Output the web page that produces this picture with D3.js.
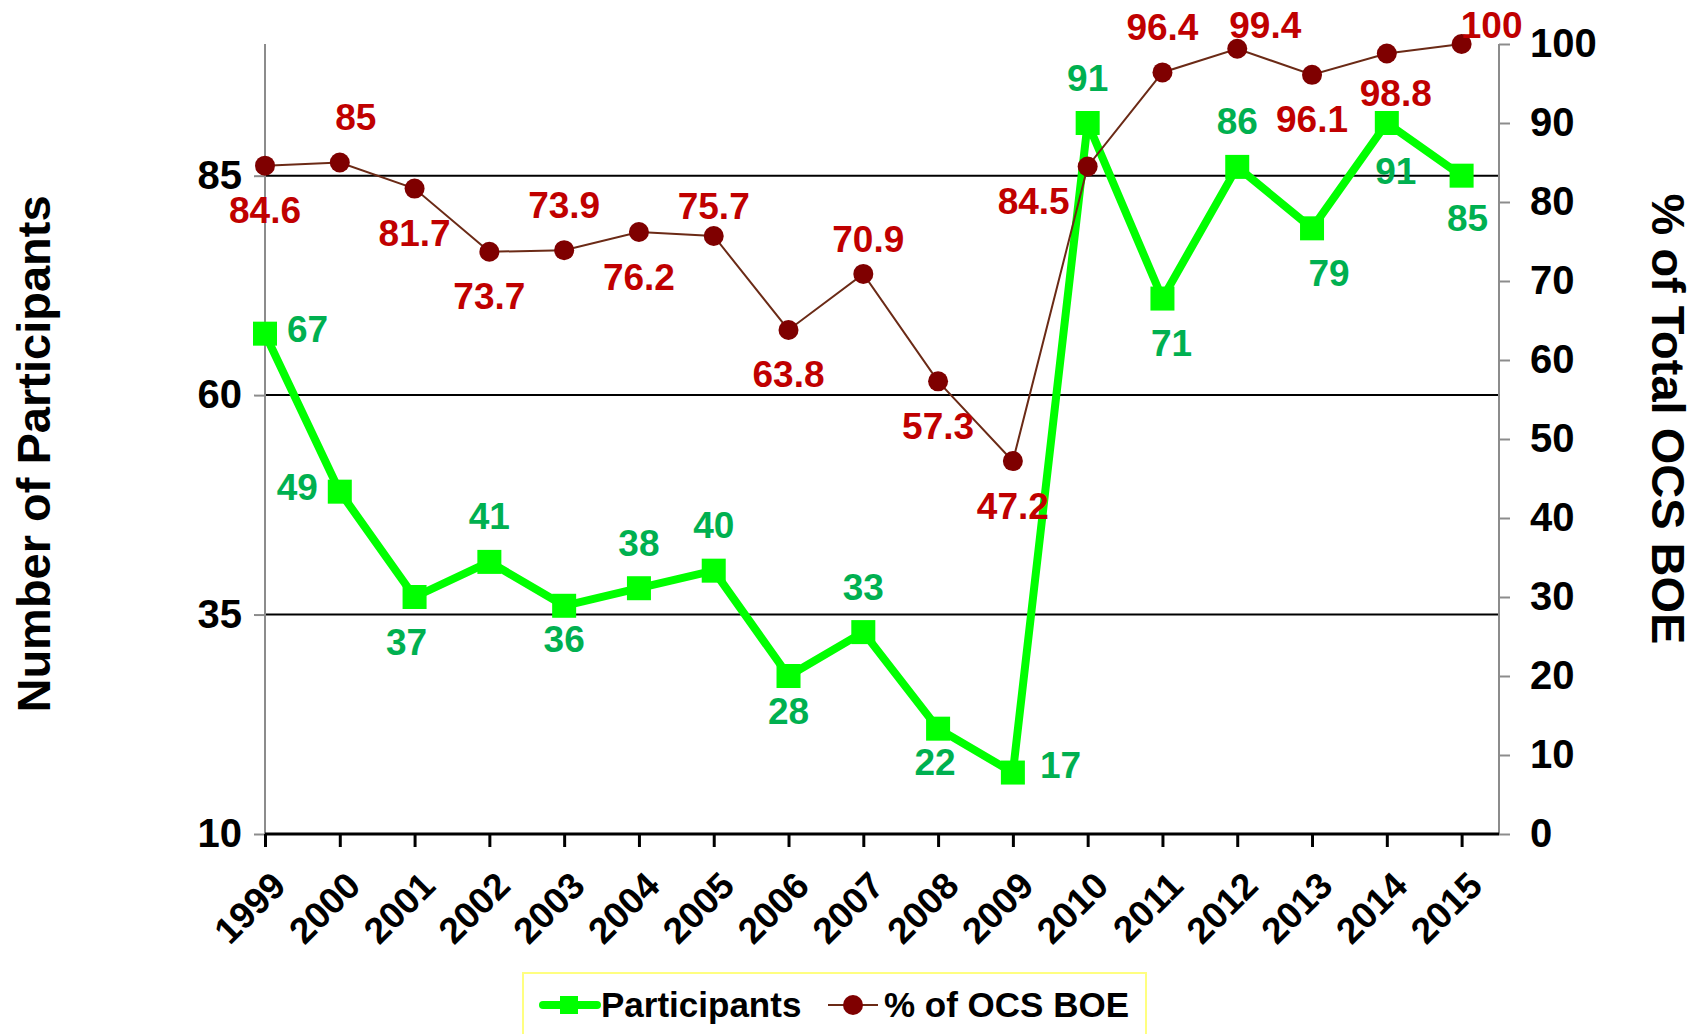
<!DOCTYPE html>
<html>
<head>
<meta charset="utf-8">
<script src="https://cdn.jsdelivr.net/npm/d3@7"></script>
<style>
  body { margin: 0; background: #fff; }
  text { font-family: "Liberation Sans", Arial, sans-serif; font-weight: bold; }
</style>
</head>
<body>
<svg width="1708" height="1034"></svg>
<script>
// data
const years = ['1999', '2000', '2001', '2002', '2003', '2004', '2005', '2006', '2007',
  '2008', '2009', '2010', '2011', '2012', '2013', '2014', '2015'];
const participants = [67, 49, 37, 41, 36, 38, 40, 28, 33, 22, 17, 91, 71, 86, 79, 91, 85];
const pctBoe = [84.6, 85, 81.7, 73.7, 73.9, 76.2, 75.7, 63.8, 70.9, 57.3, 47.2, 84.5, 96.4, 99.4, 96.1, 98.8, 100];
const leftTicks = [10, 35, 60, 85];
const rightTicks = [0, 10, 20, 30, 40, 50, 60, 70, 80, 90, 100];

// where each data label sits (t = above, b = below, l = left, r = right)
const partPos = ['r', 'l', 'b', 't', 'b', 't', 't', 'b', 't', 'b', 'r', 't', 'b', 't', 'b', 'b', 'b'];
const pctPos = ['b', 't', 'b', 'b', 't', 'b', 't', 'b', 't', 'b', 'b', 'l', 't', 't', 'b', 'b', 't'];
// hand nudges of some labels, as in the original
const partNudge = [[0, 0], [0, 0], [-8, 0], [0, 0], [0, -11], [0, 0], [0, 0], [0, -10], [0, 0],
  [-3, -11], [5, -3], [0, 0], [9, 0], [0, 0], [17, 0], [9, 3], [6, -2]];
const pctNudge = [[0, 0], [16, 0], [0, 0], [0, 0], [0, 0], [0, 0], [0, 16], [0, 0], [5, 11],
  [0, 0], [0, 0], [2, 39], [0, 0], [28, 0], [0, 0], [9, -5], [30, 0]];

const plotL = 265, plotR = 1499, plotT = 44, plotB = 834;
const step = (plotR - plotL) / 16.5;

const svg = d3.select('svg');

const x = d3.scalePoint()
  .domain(years)
  .range([plotL, plotL + 16 * step]);

const yL = d3.scaleLinear().domain([10, 100]).range([plotB, plotT]);
const yR = d3.scaleLinear().domain([0, 100]).range([plotB, plotT]);

// gridlines
svg.append('g')
  .selectAll('line')
  .data(leftTicks.filter(d => d > 10))
  .join('line')
  .attr('x1', plotL)
  .attr('x2', plotR)
  .attr('y1', d => yL(d))
  .attr('y2', d => yL(d))
  .attr('stroke', '#000')
  .attr('stroke-width', 2);

// left axis
const gl = svg.append('g')
  .attr('transform', `translate(${plotL},0)`)
  .call(d3.axisLeft(yL).tickValues(leftTicks).tickSize(11).tickPadding(12));
gl.select('.domain').attr('stroke', '#8c8c8c').attr('stroke-width', 2)
  .attr('d', `M0,${plotB}V${plotT}`);
gl.selectAll('.tick line').attr('stroke', '#8c8c8c').attr('stroke-width', 2);
gl.selectAll('.tick text')
  .attr('font-size', 40)
  .attr('fill', '#000')
  .style('font-family', '"Liberation Sans", Arial, sans-serif')
  .style('font-weight', 'bold');

// right axis
const gr = svg.append('g')
  .attr('transform', `translate(${plotR},0)`)
  .call(d3.axisRight(yR).tickValues(rightTicks).tickSize(11).tickPadding(20));
gr.select('.domain').attr('stroke', '#8c8c8c').attr('stroke-width', 2)
  .attr('d', `M0,${plotB}V${plotT}`);
gr.selectAll('.tick line').attr('stroke', '#8c8c8c').attr('stroke-width', 2);
gr.selectAll('.tick text')
  .attr('font-size', 40)
  .attr('fill', '#000')
  .style('font-family', '"Liberation Sans", Arial, sans-serif')
  .style('font-weight', 'bold');

// bottom axis
const gb = svg.append('g')
  .attr('transform', `translate(0,${plotB})`)
  .call(d3.axisBottom(x).tickSize(13).tickFormat(''));
gb.select('.domain').attr('stroke', '#000').attr('stroke-width', 3)
  .attr('d', `M${plotL},0H${plotR}`);
gb.selectAll('.tick line').attr('stroke', '#000').attr('stroke-width', 3);

svg.append('g')
  .selectAll('text')
  .data(years)
  .join('text')
  .attr('transform', d => `translate(${x(d) + 4},${plotB + 35}) rotate(-45)`)
  .attr('text-anchor', 'end')
  .attr('dy', '0.72em')
  .attr('font-size', 37)
  .text(d => d);

// axis titles
svg.append('text')
  .attr('transform', `translate(33,${(plotT + plotB) / 2 + 15}) rotate(-90)`)
  .attr('text-anchor', 'middle')
  .attr('dominant-baseline', 'central')
  .attr('font-size', 47)
  .text('Number of Participants');

svg.append('text')
  .attr('transform', `translate(1668,${(plotT + plotB) / 2 - 20}) rotate(90)`)
  .attr('text-anchor', 'middle')
  .attr('dominant-baseline', 'central')
  .attr('font-size', 47)
  .text('% of Total OCS BOE');

// participants series
svg.append('path')
  .datum(participants)
  .attr('fill', 'none')
  .attr('stroke', '#00ff00')
  .attr('stroke-width', 8)
  .attr('stroke-linejoin', 'round')
  .attr('d', d3.line().x((d, i) => x(years[i])).y(d => yL(d)));

svg.append('g')
  .selectAll('rect')
  .data(participants)
  .join('rect')
  .attr('x', (d, i) => x(years[i]) - 12)
  .attr('y', d => yL(d) - 12)
  .attr('width', 24)
  .attr('height', 24)
  .attr('fill', '#00ff00');

// % of OCS BOE series
svg.append('path')
  .datum(pctBoe)
  .attr('fill', 'none')
  .attr('stroke', '#6b2a16')
  .attr('stroke-width', 2)
  .attr('d', d3.line().x((d, i) => x(years[i])).y(d => yR(d)));

svg.append('g')
  .selectAll('circle')
  .data(pctBoe)
  .join('circle')
  .attr('cx', (d, i) => x(years[i]))
  .attr('cy', d => yR(d))
  .attr('r', 10)
  .attr('fill', '#7f0000');

// data labels
function labels(values, pos, nudge, yScale, color, side) {
  svg.append('g')
    .selectAll('text')
    .data(values)
    .join('text')
    .attr('x', (d, i) => {
      const p = pos[i];
      let px = x(years[i]);
      if (p === 'r') px += side;
      if (p === 'l') px -= side;
      return px + nudge[i][0];
    })
    .attr('y', (d, i) => {
      const p = pos[i];
      let py = yScale(d) - 4;
      if (p === 't') py = yScale(d) - 45;
      if (p === 'b') py = yScale(d) + 45;
      return Math.max(py + nudge[i][1], 25);
    })
    .attr('text-anchor', (d, i) => pos[i] === 'r' ? 'start' : pos[i] === 'l' ? 'end' : 'middle')
    .attr('dominant-baseline', 'central')
    .attr('font-size', 37)
    .attr('fill', color)
    .text(d => d);
}

labels(participants, partPos, partNudge, yL, '#00b050', 22);
labels(pctBoe, pctPos, pctNudge, yR, '#c00000', 20);

// legend
const lg = svg.append('g');
lg.append('rect')
  .attr('x', 523)
  .attr('y', 973)
  .attr('width', 623)
  .attr('height', 80)
  .attr('fill', '#fff')
  .attr('stroke', '#ffff80')
  .attr('stroke-width', 2);

lg.append('line')
  .attr('x1', 543).attr('x2', 597)
  .attr('y1', 1005).attr('y2', 1005)
  .attr('stroke', '#00ff00')
  .attr('stroke-width', 8)
  .attr('stroke-linecap', 'round');
lg.append('rect')
  .attr('x', 560).attr('y', 996)
  .attr('width', 18).attr('height', 18)
  .attr('fill', '#00ff00');
lg.append('text')
  .attr('x', 601).attr('y', 1004)
  .attr('dominant-baseline', 'central')
  .attr('font-size', 35)
  .text('Participants');

lg.append('line')
  .attr('x1', 828).attr('x2', 878)
  .attr('y1', 1005).attr('y2', 1005)
  .attr('stroke', '#6b2a16')
  .attr('stroke-width', 2);
lg.append('circle')
  .attr('cx', 853).attr('cy', 1005)
  .attr('r', 10)
  .attr('fill', '#7f0000');
lg.append('text')
  .attr('x', 884).attr('y', 1004)
  .attr('dominant-baseline', 'central')
  .attr('font-size', 35)
  .text('% of OCS BOE');
</script>
</body>
</html>
